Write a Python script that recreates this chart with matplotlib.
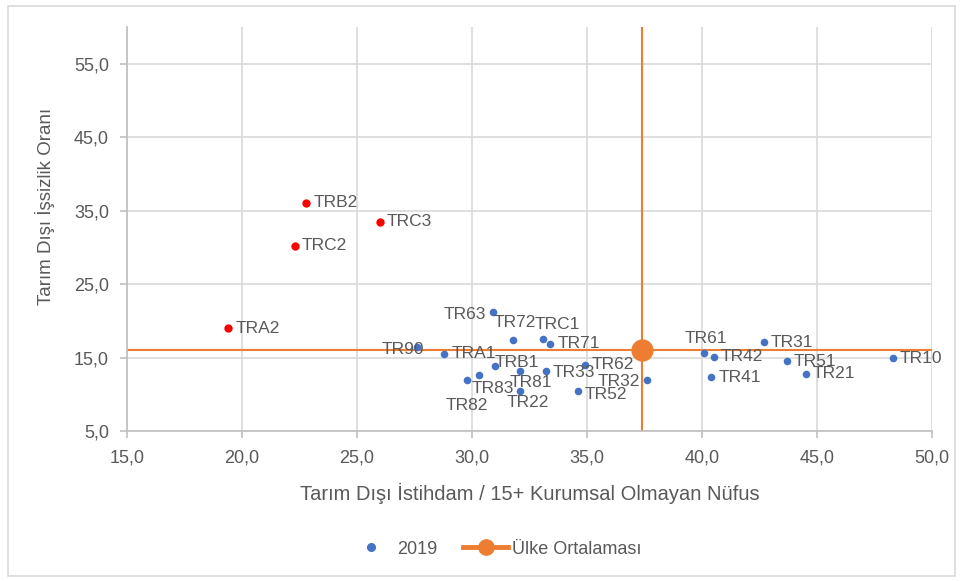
import matplotlib
matplotlib.use("Agg")
import matplotlib.pyplot as plt
from matplotlib.lines import Line2D
from matplotlib.patches import Rectangle
from matplotlib.ticker import FuncFormatter

plt.rcParams['font.family'] = ['Liberation Sans', 'DejaVu Sans']

# ---- data ----
red_names = ["TRB2", "TRC3", "TRC2", "TRA2"]
red_x = [22.8, 26.0, 22.3, 19.4]
red_y = [36.1, 33.5, 30.2, 19.0]

blue_names = ["TR63", "TR72", "TRC1", "TR71", "TR90", "TRA1", "TRB1", "TR81", "TR33",
              "TR62", "TR83", "TR82", "TR22", "TR52", "TR32", "TR61", "TR42", "TR31",
              "TR51", "TR10", "TR41", "TR21"]
blue_x = [30.9, 31.8, 33.1, 33.4, 27.6, 28.8, 31.0, 32.1, 33.2,
          34.9, 30.3, 29.8, 32.1, 34.6, 37.6, 40.1, 40.5, 42.7,
          43.7, 48.3, 40.4, 44.5]
blue_y = [21.2, 17.4, 17.5, 16.9, 16.5, 15.5, 13.9, 13.2, 13.2,
          14.0, 12.6, 11.9, 10.5, 10.4, 11.9, 15.6, 15.1, 17.1,
          14.5, 14.9, 12.3, 12.8]

avg_x = 37.4
avg_y = 16.0

x_ticks = [15, 20, 25, 30, 35, 40, 45, 50]
y_ticks = [5, 15, 25, 35, 45, 55]

# label offsets (points): (dx, dy, ha, va)
offsets = {
    "TR63": (-5, -2, "right", "center"),
    "TR72": (-14, 7, "left", "bottom"),
    "TRC1": (-6, 5, "left", "bottom"),
    "TR90": (5, -2, "right", "center"),
    "TRB1": (0, 2, "left", "center"),
    "TR81": (-8, -3, "left", "top"),
    "TR83": (-5, -4, "left", "top"),
    "TR82": (-16, -13, "left", "top"),
    "TR22": (-10, -3, "left", "top"),
    "TR33": (5, -1, "left", "center"),
    "TR62": (5, 0, "left", "center"),
    "TR52": (5, -2.5, "left", "center"),
    "TR32": (-5, -0.5, "right", "center"),
    "TR61": (-14, 5, "left", "bottom"),
}

text_color = "#595959"
fig = plt.figure(figsize=(9.61, 5.81), dpi=100)
ax = fig.add_axes([127/961, 1-431/581, (932-127)/961, (431-27)/581])

ax.set_xlim(15, 50)
ax.set_ylim(5, 60)
ax.set_xticks(x_ticks)
ax.set_yticks(y_ticks)
fmt = FuncFormatter(lambda v, p: f"{v:.1f}".replace(".", ","))
ax.xaxis.set_major_formatter(fmt)
ax.yaxis.set_major_formatter(fmt)
ax.grid(True, color="#D9D9D9", linewidth=1.2, zorder=0)
ax.set_axisbelow(True)
for s in ["top", "right"]:
    ax.spines[s].set_visible(False)
for s in ["left", "bottom"]:
    ax.spines[s].set_color("#BFBFBF")
    ax.spines[s].set_linewidth(1.2)
ax.tick_params(colors=text_color, labelsize=13, length=5, width=1.2, color="#BFBFBF", pad=8)

ax.axvline(avg_x, color="#ED7D31", linewidth=1.5, zorder=2)
ax.axhline(avg_y, color="#ED7D31", linewidth=1.5, zorder=2)
ax.plot([avg_x], [avg_y], "o", color="#ED7D31", markersize=15, zorder=3)

ax.scatter(blue_x, blue_y, s=30, color="#4472C4", zorder=4, linewidths=0)
ax.scatter(red_x, red_y, s=36, color="#FF0000", zorder=4, linewidths=0)

for n, x, y in list(zip(blue_names, blue_x, blue_y)) + list(zip(red_names, red_x, red_y)):
    dx, dy, ha, va = offsets.get(n, (5, 0, "left", "center"))
    ax.annotate(n, (x, y), xytext=(dx, dy), textcoords="offset points",
                ha=ha, va=va, fontsize=12.5, color=text_color, zorder=5)

ax.set_xlabel("Tarım Dışı İstihdam / 15+ Kurumsal Olmayan Nüfus", fontsize=14.5,
              color=text_color, va="center")
ax.xaxis.set_label_coords(0.5, (431-493)/404)
ax.set_ylabel("Tarım Dışı İşsizlik Oranı", fontsize=13.5, color=text_color, va="center")
ax.yaxis.set_label_coords((45-127)/805, (431-206)/404)

handles = [
    Line2D([], [], marker="o", linestyle="none", color="#4472C4", markersize=5.5),
    Line2D([], [], marker="o", linestyle="-", color="#ED7D31", markersize=11, linewidth=3.5),
]
fig.legend(handles, ["2019", "Ülke Ortalaması"], loc="center", bbox_to_anchor=(495/961, 1-549/581),
           ncol=2, frameon=False, fontsize=13, labelcolor=text_color, handlelength=2.5,
           columnspacing=1.4, handletextpad=0.2)

fig.patches.append(Rectangle((8/961, 5/581), 947/961, 570/581, transform=fig.transFigure,
                             fill=False, edgecolor="#D9D9D9", linewidth=1.2))

fig.savefig("out.png", dpi=100)
